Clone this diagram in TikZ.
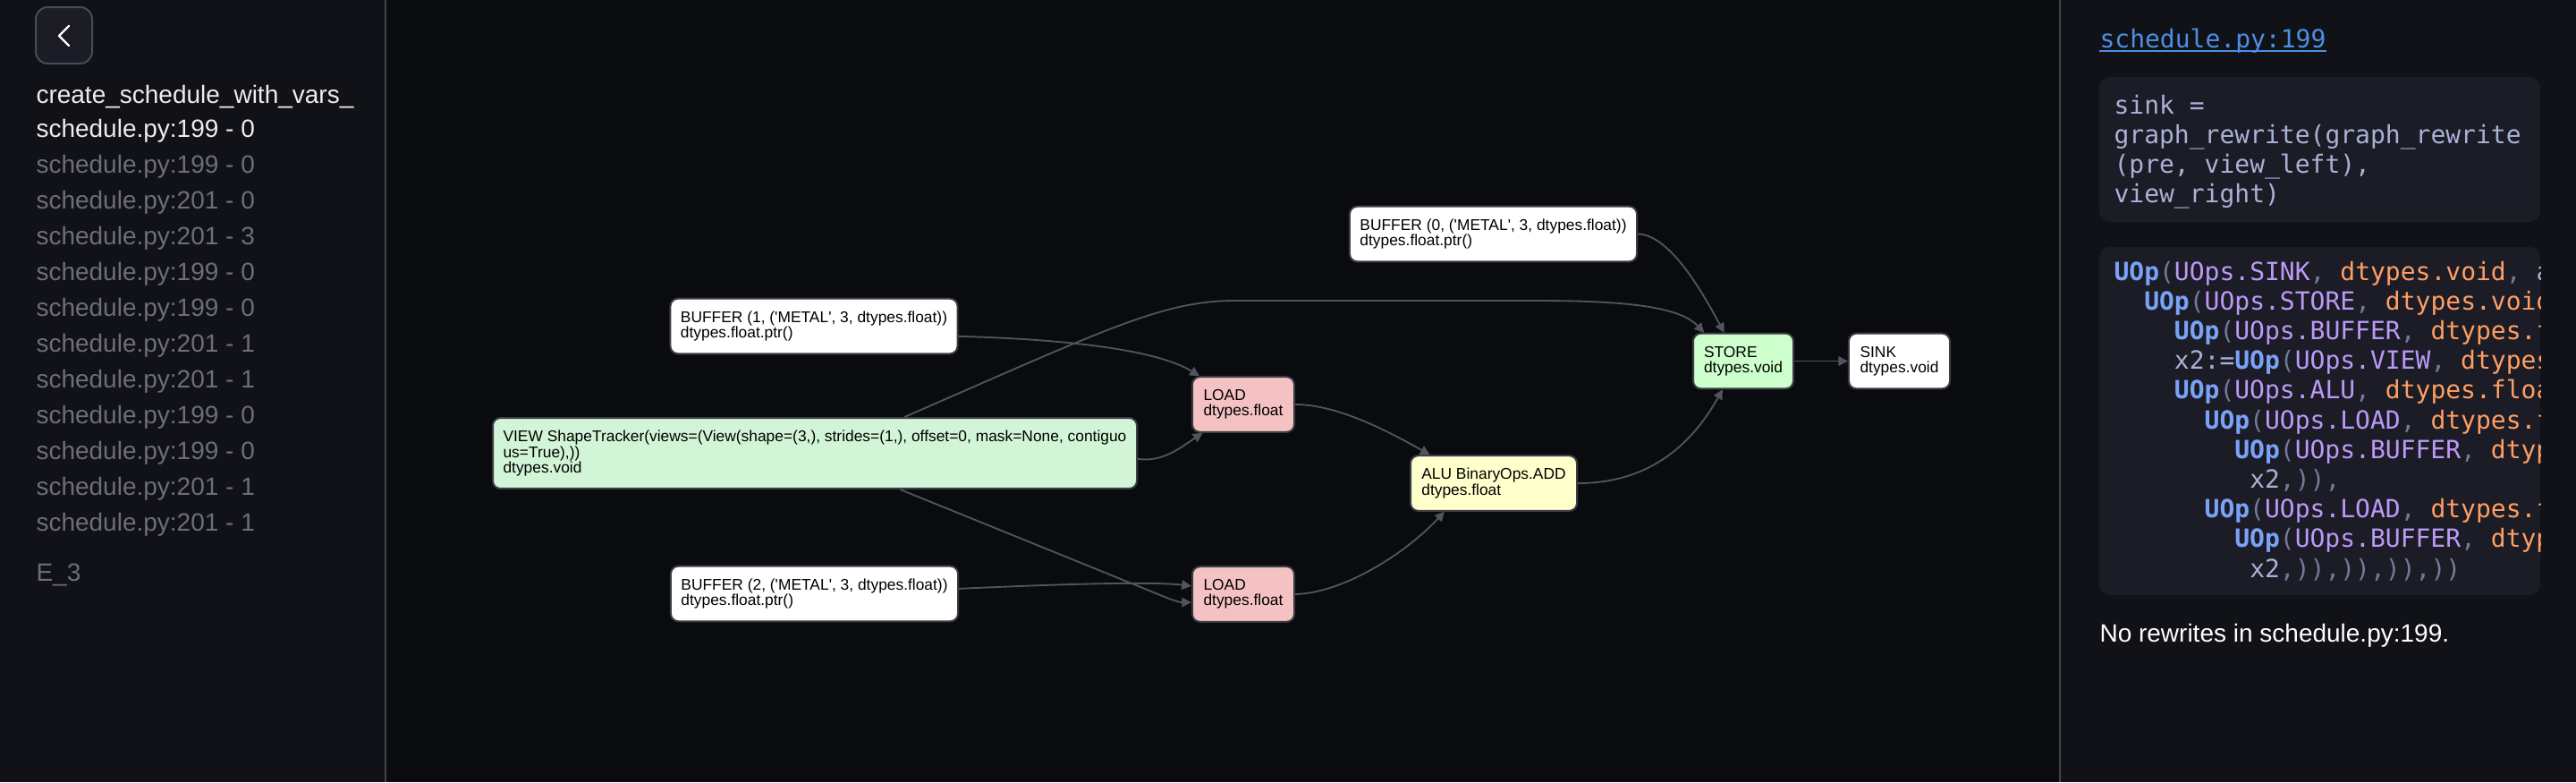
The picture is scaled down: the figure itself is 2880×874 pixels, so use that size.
\documentclass[tikz,border=0pt]{standalone}
\usepackage{fontspec}
\usetikzlibrary{arrows.meta}
\newfontfamily\sansfam{Liberation Sans}
\newfontfamily\monofam{DejaVu Sans Mono}
\definecolor{canvas}{HTML}{0A0B0F}
\definecolor{panel}{HTML}{111217}
\definecolor{divider}{HTML}{42434B}
\definecolor{boxfill}{HTML}{1B1C25}
\definecolor{btnedge}{HTML}{4A4B55}
\definecolor{nodeedge}{HTML}{3C3D45}
\definecolor{wiregray}{HTML}{52535D}
\definecolor{viewgreen}{HTML}{D3F5D7}
\definecolor{storegreen}{HTML}{CCFFCC}
\definecolor{loadpink}{HTML}{F4C2C2}
\definecolor{alucream}{HTML}{FFFFCC}
\definecolor{sidewhite}{HTML}{EDEDED}
\definecolor{sidegray}{HTML}{6E6E76}
\definecolor{linkblue}{HTML}{4D8FE3}
\definecolor{plain}{HTML}{A9B1D6}
\definecolor{punct}{HTML}{737A99}
\definecolor{uopblue}{HTML}{7AA2F7}
\definecolor{opspurple}{HTML}{BB9AF7}
\definecolor{dtorange}{HTML}{FF9E64}
\newcommand\graphfont{\sansfam\fontsize{6.52pt}{6.5pt}\selectfont}
\newcommand\sidefont{\sansfam\fontsize{10.5pt}{12pt}\selectfont}
\newcommand\srcfont{\monofam\fontsize{10.5pt}{12pt}\selectfont}
\newcommand\uopkw{\textcolor{uopblue}{\bfseries UOp}}
\newcommand\punc[1]{\textcolor{punct}{#1}}
\newcommand\opname[1]{\textcolor{opspurple}{#1}}
\newcommand\dtname[1]{\textcolor{dtorange}{#1}}
\newcommand\sq{\textquotesingle}
\begin{document}
\begin{tikzpicture}[x=0.375pt,y=-0.375pt,
  opbox/.style={draw=nodeedge,line width=0.75pt,rounded corners=3.2pt,inner sep=0pt,
    align=left,font=\graphfont,text=black,minimum height=23.1pt,
    execute at begin node={\rule{0pt}{6.5pt}}},
  wire/.style={draw=wiregray,line width=0.7pt,-{Triangle[length=4pt,width=4pt]}},
  sideitem/.style={anchor=base west,inner sep=0pt,font=\sidefont,text=sidegray},
  codeline/.style={anchor=base west,inner sep=0pt,font=\srcfont,text=plain}]
\useasboundingbox (0,0) rectangle (2880,874);
% backgrounds
\fill[canvas] (0,0) rectangle (2880,874);
\fill[panel] (0,0) rectangle (431,874);
\fill[panel] (2303,0) rectangle (2880,874);
\draw[divider,line width=0.75pt] (431,0) -- (431,874);
\draw[divider,line width=0.75pt] (2303,0) -- (2303,874);
% left sidebar
\draw[fill=boxfill,draw=btnedge,line width=0.75pt,rounded corners=5pt] (40,8) rectangle (103,71);
\draw[white,line width=0.9pt,line cap=round,line join=round] (77,29) -- (66,40) -- (77,51);
\node[sideitem,text=sidewhite] (fn) at (40,115) {create\_schedule\_with\_vars\_};
\node[sideitem,text=sidewhite] (s0) at (40,153) {schedule.py:199 - 0};
\node[sideitem] (s1) at (40,193) {schedule.py:199 - 0};
\node[sideitem] (s2) at (40,233) {schedule.py:201 - 0};
\node[sideitem] (s3) at (40,273) {schedule.py:201 - 3};
\node[sideitem] (s4) at (40,313) {schedule.py:199 - 0};
\node[sideitem] (s5) at (40,353) {schedule.py:199 - 0};
\node[sideitem] (s6) at (40,393) {schedule.py:201 - 1};
\node[sideitem] (s7) at (40,433) {schedule.py:201 - 1};
\node[sideitem] (s8) at (40,473) {schedule.py:199 - 0};
\node[sideitem] (s9) at (40,513) {schedule.py:199 - 0};
\node[sideitem] (s10) at (40,553) {schedule.py:201 - 1};
\node[sideitem] (s11) at (40,593) {schedule.py:201 - 1};
\node[sideitem] (e3) at (40,649) {E\_3};
% graph
\node[opbox,fill=white,minimum width=120.4pt] (buf1) at (910,364.5) {BUFFER (1, (\sq METAL\sq, 3, dtypes.float))\\dtypes.float.ptr()};
\node[opbox,fill=viewgreen,minimum width=270pt,minimum height=29.6pt] (view) at (911,506.5) {VIEW ShapeTracker(views=(View(shape=(3,), strides=(1,), offset=0, mask=None, contiguo\\us=True),))\\dtypes.void};
\node[opbox,fill=white,minimum width=120.4pt] (buf2) at (910.5,663.5) {BUFFER (2, (\sq METAL\sq, 3, dtypes.float))\\dtypes.float.ptr()};
\node[opbox,fill=loadpink,minimum width=42.75pt] (load1) at (1390,452) {LOAD\\dtypes.float};
\node[opbox,fill=loadpink,minimum width=42.75pt] (load2) at (1390,664) {LOAD\\dtypes.float};
\node[opbox,fill=alucream,minimum width=69.75pt] (alu) at (1670,540) {ALU BinaryOps.ADD\\dtypes.float};
\node[opbox,fill=white,minimum width=120.4pt] (buf0) at (1669.5,261.5) {BUFFER (0, (\sq METAL\sq, 3, dtypes.float))\\dtypes.float.ptr()};
\node[opbox,fill=storegreen,minimum width=42pt] (store) at (1949,403.5) {STORE\\dtypes.void};
\node[opbox,fill=white,minimum width=42.4pt] (sink) at (2123.5,403.5) {SINK\\dtypes.void};
\draw[wire] (view.22.6) .. controls (1234,369) and (1300,336) .. (1380,336) -- (1720,336) .. controls (1830,336) and (1880,345) .. (store.144.7);
\draw[wire] (buf1.-4.1) .. controls (1220,380) and (1300,395) .. (load1.147.1);
\draw[wire] (view.-1.7) .. controls (1300,517) and (1320,500) .. (load1.215.8);
\draw[wire] (view.-23) -- (1275,656) .. controls (1300,666) and (1315,673) .. (load2.189);
\draw[wire] (buf2.2) .. controls (1200,652) and (1290,650) .. (load2.171);
\draw[wire] (load1.east) .. controls (1490,452) and (1540,475) .. (alu.156.7);
\draw[wire] (load2.east) .. controls (1500,663) and (1570,620) .. (alu.210.3);
\draw[wire] (alu.east) .. controls (1850,540) and (1895,490) .. (store.234.2);
\draw[wire] (buf0.east) .. controls (1865,262) and (1900,320) .. (store.124.5);
\draw[wire] (store.east) -- (sink.west);
% right panel
\node[codeline,text=linkblue] (srclink) at (2347,53) {schedule.py:199};
\draw[linkblue,line width=0.75pt] ([yshift=-1.6pt]srclink.base west) -- ([yshift=-1.6pt]srclink.base east);
\fill[boxfill,rounded corners=4.5pt] (2347,86) rectangle (2840,248);
\node[codeline] (r1) at (2363,127) {sink =};
\node[codeline] (r2) at (2363,160) {graph\_rewrite(graph\_rewrite};
\node[codeline] (r3) at (2363,193) {(pre, view\_left),};
\node[codeline] (r4) at (2363,226) {view\_right)};
\fill[boxfill,rounded corners=4.5pt] (2347,276) rectangle (2840,665);
\begin{scope}
\clip (2347,276) rectangle (2840,665);
\node[codeline] (u1) at (2363,313) {\uopkw\punc{(}\opname{UOps.SINK}\punc{,} \dtname{dtypes.void}\punc{,} a};
\node[codeline] (u2) at (2396.7,346.2) {\uopkw\punc{(}\opname{UOps.STORE}\punc{,} \dtname{dtypes.void}};
\node[codeline] (u3) at (2430.4,379.4) {\uopkw\punc{(}\opname{UOps.BUFFER}\punc{,} \dtname{dtypes.f}};
\node[codeline] (u4) at (2430.4,412.6) {x2:=\uopkw\punc{(}\opname{UOps.VIEW}\punc{,} \dtname{dtypes}};
\node[codeline] (u5) at (2430.4,445.8) {\uopkw\punc{(}\opname{UOps.ALU}\punc{,} \dtname{dtypes.floa}};
\node[codeline] (u6) at (2464.1,479) {\uopkw\punc{(}\opname{UOps.LOAD}\punc{,} \dtname{dtypes.f}};
\node[codeline] (u7) at (2497.8,512.2) {\uopkw\punc{(}\opname{UOps.BUFFER}\punc{,} \dtname{dtyp}};
\node[codeline] (u8) at (2514.7,545.4) {x2\punc{,)),}};
\node[codeline] (u9) at (2464.1,578.6) {\uopkw\punc{(}\opname{UOps.LOAD}\punc{,} \dtname{dtypes.f}};
\node[codeline] (u10) at (2497.8,611.8) {\uopkw\punc{(}\opname{UOps.BUFFER}\punc{,} \dtname{dtyp}};
\node[codeline] (u11) at (2514.7,645) {x2\punc{,)),)),)),))}};
\end{scope}
\node[anchor=base west,inner sep=0pt,font=\sidefont,text=white] (norw) at (2347,717) {No rewrites in schedule.py:199.};
\end{tikzpicture}
\end{document}
